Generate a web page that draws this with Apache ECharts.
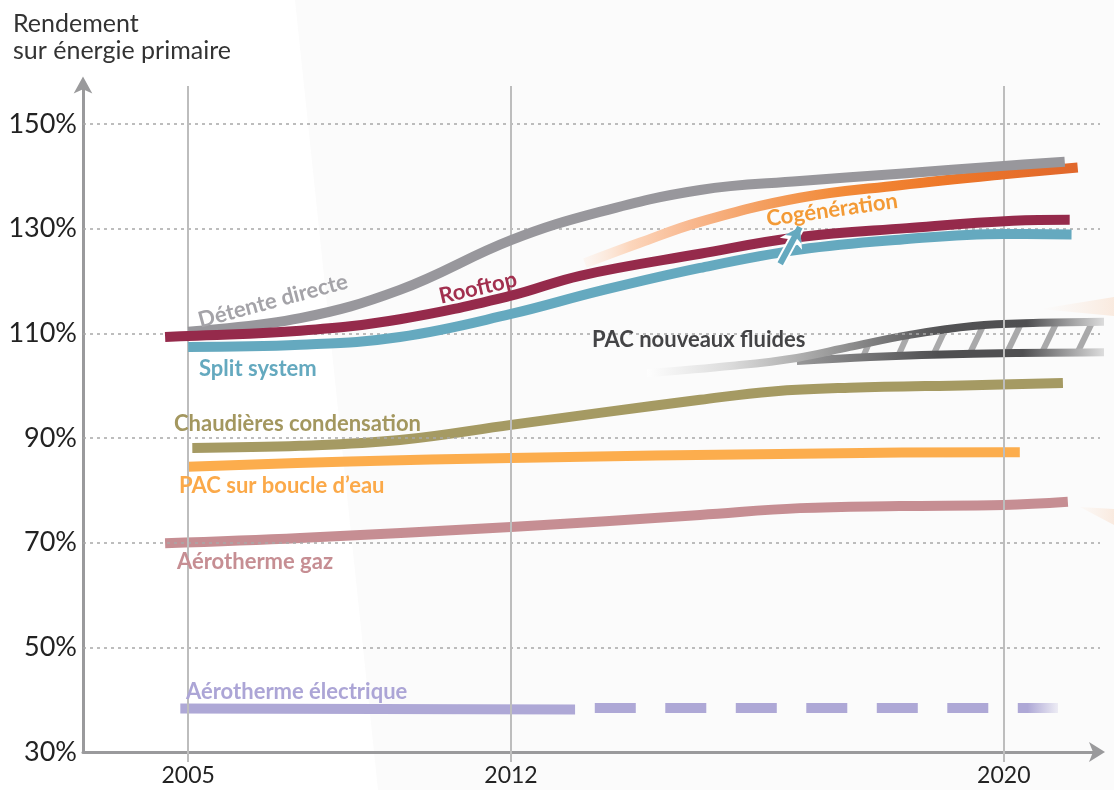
<!DOCTYPE html>
<html lang="fr">
<head>
<meta charset="utf-8">
<title>Rendement sur énergie primaire</title>
<script src="https://cdn.jsdelivr.net/npm/echarts@6/dist/echarts.min.js"></script>
<style>
  html, body { margin: 0; padding: 0; background: #ffffff; }
  #chart { width: 1114px; height: 790px; }
</style>
</head>
<body>
<div id="chart"></div>
<script>
// ---- Axis ticks ----
const tickYears = [2005, 2012, 2020];
const yTicks = [30, 50, 70, 90, 110, 130, 150];

// ---- Series: [year, rendement %] ----
const detenteDirecte = [[2005, 110.3], [2007.43, 112.9], [2009.59, 118.3], [2012, 127.8],
  [2013.44, 133.2], [2015.07, 137.4], [2016.69, 139.1], [2018.31, 140.5], [2020, 142.0], [2020.99, 142.8]];
const rooftop = [[2004.5, 109.3], [2005, 109.5], [2007.43, 110.5], [2009.59, 112.7], [2012, 117.2],
  [2013.12, 121.0], [2015.07, 125.2], [2016.69, 128.4], [2018.43, 130.1], [2020.15, 131.5], [2021.07, 131.7]];
const splitSystem = [[2005, 107.4], [2007.43, 107.8], [2009.59, 109.3], [2012, 113.7], [2013.44, 118.1],
  [2015.07, 122.5], [2016.69, 126.0], [2018.31, 127.9], [2020, 129.0], [2021.1, 128.9]];
const cogeneration = [[2013.2, 123.4], [2014.09, 127.3], [2015.07, 131.3], [2016.69, 135.9],
  [2018.31, 138.3], [2020, 140.4], [2021.2, 141.7]];
const pacFluidesHaut = [[2014.21, 102.4], [2015.6, 103.8], [2016.64, 105.3], [2017.5, 107.4],
  [2018.47, 109.7], [2019.5, 111.4], [2020.58, 112.0], [2021.77, 112.2]];
const pacFluidesBas = [[2016.64, 104.7], [2017.83, 105.5], [2019.5, 106.1], [2021.77, 106.4]];
const hatchYears = [2017.7, 2018.27, 2018.84, 2019.43, 2020.03, 2020.6, 2021.18];
const chaudieres = [[2005.09, 88.1], [2007.43, 88.5], [2009.59, 89.6], [2012, 92.5], [2013.44, 94.8],
  [2015.07, 97.3], [2016.25, 98.9], [2017.5, 99.6], [2019.49, 100.1], [2020.96, 100.5]];
const pacBoucleEau = [[2005, 84.5], [2008.5, 85.5], [2012, 86.2], [2016.69, 87.0], [2020, 87.3], [2020.26, 87.3]];
const aerothermeGaz = [[2004.5, 69.9], [2007.43, 70.9], [2012, 73.0], [2015.07, 75.3], [2016.69, 76.6],
  [2018.31, 77.0], [2020, 77.2], [2021.04, 77.8]];
const aerothermeElecMesure = [[2004.83, 38.3], [2013.04, 38.1]];
const aerothermeElecProjete = [[2013.36, 38.4], [2020.88, 38.4]];
const fleche = [[2016.37, 123.3], [2016.69, 130.3]];

// ---- Time scale: the 2012–2020 span is drawn wider per year than 2005–2012 ----
const STRETCH = 1.3355;
function pos(year) { return year <= 2012 ? year : 2012 + (year - 2012) * STRETCH; }
function yearOf(p) { return p <= 2012 ? p : 2012 + (p - 2012) / STRETCH; }
const toXY = arr => arr.map(([y, v]) => [pos(y), v]);

function interp(arr, year) {
  for (let i = 0; i < arr.length - 1; i++) {
    const [y0, v0] = arr[i], [y1, v1] = arr[i + 1];
    if (year >= y0 && year <= y1) return v0 + (v1 - v0) * (year - y0) / (y1 - y0);
  }
  return arr[arr.length - 1][1];
}

const FONT = 'Lato, "Noto Sans", sans-serif';
const lin = stops => new echarts.graphic.LinearGradient(0, 0, 1, 0, stops.map(([o, c]) => ({ offset: o, color: c })));
const LABEL_FONT = 'bold 22px ' + FONT;

function curve(name, data, color, z, extra) {
  return Object.assign({
    type: 'line', name, data: toXY(data), z,
    smooth: 0.4, showSymbol: false, symbol: 'none',
    silent: true, animation: false,
    lineStyle: { width: 10, color, cap: 'butt', join: 'round' }
  }, extra || {});
}

function label(text, x, y, color, rotDeg, align) {
  return { type: 'text', z: 100, x, y, rotation: (rotDeg || 0) * Math.PI / 180, silent: true,
    style: { text, fill: color, font: LABEL_FONT, align: align || 'left', verticalAlign: 'middle' } };
}

const option = {
  animation: false,
  backgroundColor: '#ffffff',
  grid: { left: 83, right: 14, top: 86, bottom: 38 },
  xAxis: {
    type: 'value', min: 2002.72, max: 2024.77,
    axisLine: { show: true, symbol: ['none', 'arrow'], symbolSize: [15, 16], symbolOffset: [0, 5],
      lineStyle: { color: '#9a9a9c', width: 3 } },
    axisTick: { show: true, customValues: tickYears.map(pos), length: 10, inside: false,
      lineStyle: { color: '#bdbdbd', width: 2 } },
    axisLabel: { customValues: tickYears.map(pos), margin: 12, color: '#222', fontSize: 23, fontFamily: FONT,
      formatter: v => String(Math.round(yearOf(v))) },
    splitLine: { show: false }
  },
  yAxis: {
    type: 'value', min: 30, max: 157.26, interval: 20,
    axisLine: { show: true, symbol: ['none', 'arrow'], symbolSize: [14, 17], symbolOffset: [0, 9.5],
      lineStyle: { color: '#9a9a9c', width: 3 } },
    axisTick: { show: false },
    axisLabel: { margin: 6, color: '#222', fontSize: 27, fontFamily: FONT, showMaxLabel: false,
      formatter: v => (yTicks.includes(v) ? v + '%' : '') },
    splitLine: { show: false }
  },
  graphic: [
    { type: 'polygon', z: -10, silent: true,
      shape: { points: [[295, 0], [1114, 0], [1114, 790], [378, 790]] }, style: { fill: '#fbfbfb' } },
    { type: 'polygon', z: -5, silent: true,
      shape: { points: [[1040, 309], [1114, 297], [1114, 316]] },
      style: { fill: new echarts.graphic.LinearGradient(0, 0, 1, 0, [
        { offset: 0, color: 'rgba(250,236,226,0)' }, { offset: 1, color: 'rgba(249,230,216,0.8)' }]) } },
    { type: 'polygon', z: -5, silent: true,
      shape: { points: [[1080, 507], [1114, 509], [1114, 525]] },
      style: { fill: new echarts.graphic.LinearGradient(0, 0, 1, 0, [
        { offset: 0, color: 'rgba(250,236,226,0.2)' }, { offset: 1, color: 'rgba(249,230,216,0.8)' }]) } },
    { type: 'text', z: 100, x: 13, y: 24, silent: true,
      style: { text: 'Rendement', fill: '#333', font: '25px ' + FONT, align: 'left', verticalAlign: 'middle' } },
    { type: 'text', z: 100, x: 13, y: 51, silent: true,
      style: { text: 'sur énergie primaire', fill: '#333', font: '25px ' + FONT, align: 'left', verticalAlign: 'middle' } },
    label('Détente directe', 273, 301, '#a4a3a8', 15, 'center'),
    label('Rooftop', 478, 288, '#a2304f', 13, 'center'),
    label('Split system', 199, 369, '#64a9bf'),
    label('Cogénération', 832, 210, '#f39a36', 8, 'center'),
    label('PAC nouveaux fluides', 592, 340, '#444446'),
    label('Chaudières condensation', 174, 424, '#a3975f'),
    label('PAC sur boucle d’eau', 179, 486, '#fba949'),
    label('Aérotherme gaz', 177, 562, '#c68e93'),
    label('Aérotherme électrique', 186, 692, '#aca5d6')
  ],
  series: [
    // reference lines: dotted levels and the three year verticals
    { type: 'line', data: [[pos(2005), 30]], showSymbol: false, lineStyle: { opacity: 0 }, z: 1, silent: true,
      markLine: { silent: true, symbol: 'none', label: { show: false }, animation: false,
        data: [
          ...yTicks.slice(1).map(v => ({ yAxis: v, lineStyle: { type: [3, 4], color: '#a8a8a8', width: 1.5 } })),
          ...tickYears.map(y => ({ xAxis: pos(y), lineStyle: { type: 'solid', color: '#bdbdbd', width: 2 } }))
        ] } },
    curve('Aérotherme électrique', aerothermeElecMesure, '#aea8d6', 3, { smooth: false }),
    curve('Aérotherme électrique (projection)', aerothermeElecProjete, null, 3,
      { smooth: false, lineStyle: { width: 10, type: [41, 29.5], cap: 'butt',
        color: lin([[0, '#aea8d6'], [0.925, '#aea8d6'], [1, 'rgba(174,168,214,0.05)']]) } }),
    curve('Aérotherme gaz', aerothermeGaz, '#c68e93', 3),
    curve('PAC sur boucle d’eau', pacBoucleEau, '#fcad4d', 3),
    curve('Chaudières condensation', chaudieres, '#a59a63', 3),
    // hatching between the two bounds of the new-refrigerant heat pumps
    { type: 'custom', z: 3, silent: true, clip: false,
      data: hatchYears.map(y => [pos(y), interp(pacFluidesBas, y), interp(pacFluidesHaut, y)]),
      renderItem: (params, api) => {
        const p1 = api.coord([api.value(0), api.value(1)]);
        const p2 = api.coord([api.value(0), api.value(2)]);
        const dy = p1[1] - p2[1];
        return { type: 'line', shape: { x1: p1[0], y1: p1[1] + 2, x2: p1[0] + dy * 0.55, y2: p2[1] - 2 },
          style: { stroke: '#a9a9aa', lineWidth: 6 } };
      } },
    curve('PAC nouveaux fluides (bas)', pacFluidesBas, null, 4,
      { clip: false, lineStyle: { width: 8, cap: 'butt',
        color: lin([[0, '#9a9a9b'], [0.45, '#4f4f51'], [0.71, '#4f4f51'], [1, '#f3f3f3']]) } }),
    curve('PAC nouveaux fluides (haut)', pacFluidesHaut, null, 4,
      { clip: false, lineStyle: { width: 8, cap: 'butt',
        color: lin([[0, '#ffffff'], [0.18, '#dcdcdc'], [0.4, '#999999'], [0.63, '#525254'], [0.81, '#4f4f51'], [1, '#f3f3f3']]) } }),
    curve('Split system', splitSystem, '#65a9bf', 5),
    curve('Cogénération', cogeneration, null, 5,
      { lineStyle: { width: 10, cap: 'butt',
        color: lin([[0, 'rgba(253,232,218,0.2)'], [0.1, '#fcd6bc'], [0.22, '#f8b88f'], [0.36, '#f49f60'],
          [0.52, '#f28a38'], [0.72, '#ee7829'], [1, '#e0672c']]) } }),
    curve('Détente directe', detenteDirecte, '#98979c', 6),
    curve('Rooftop', rooftop, '#952a4b', 7),
    // arrow pointing from Split system toward Rooftop
    { type: 'lines', coordinateSystem: 'cartesian2d', z: 8, silent: true, animation: false,
      symbol: ['none', 'arrow'], symbolSize: 19,
      lineStyle: { color: '#ffffff', width: 10, opacity: 1 },
      data: [{ coords: toXY(fleche) }] },
    { type: 'lines', coordinateSystem: 'cartesian2d', z: 9, silent: true, animation: false,
      symbol: ['none', 'arrow'], symbolSize: 14,
      lineStyle: { color: '#65a9bf', width: 6, opacity: 1 },
      data: [{ coords: toXY(fleche) }] }
  ]
};

const chart = echarts.init(document.getElementById('chart'));
chart.setOption(option);
</script>
</body>
</html>
